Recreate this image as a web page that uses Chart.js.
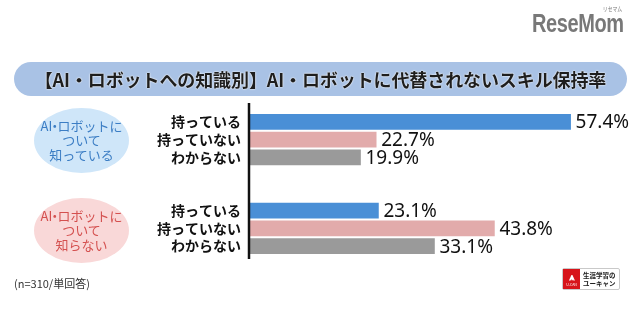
<!DOCTYPE html>
<html lang="ja">
<head>
<meta charset="utf-8">
<title>AI・ロボットに代替されないスキル保持率</title>
<script src="https://cdn.jsdelivr.net/npm/chart.js@4.4.1/dist/chart.umd.min.js"></script>
<style>
  html, body { margin: 0; padding: 0; background: #fff; }
  #wrap { position: relative; width: 640px; height: 311px; overflow: hidden;
    font-family: "Noto Sans CJK JP", "Noto Sans", sans-serif; }
  #chart { position: absolute; left: 0; top: 0; }
  .title { position: absolute; left: 14px; top: 62px; width: 613px; height: 34px;
    border-radius: 17px; background: #a9c2e5; color: #1e1e1e; font-weight: bold;
    font-size: 18px; line-height: 34px; text-align: center; letter-spacing: -0.1px;
    text-shadow: 0 0 2px #fff, 0 0 1px #fff; }
  .bubble { position: absolute; left: 34px; width: 95px; height: 65px; border-radius: 50%;
    display: flex; align-items: center; justify-content: center; text-align: center;
    font-size: 13px; line-height: 14.5px; }
  .bubble .dot { margin: 0 -0.3em; }
  .know { top: 108px; background: #cfe6f9; color: #3b7dc4; }
  .dontknow { top: 198px; background: #f9d8d8; color: #d4504f; }
  .note { position: absolute; left: 14px; top: 275px; font-size: 11px; color: #333; }
  .brand { position: absolute; left: 532px; top: 9px; font-family: "Liberation Sans", sans-serif;
    font-weight: bold; font-size: 25px; color: #787878; transform: scaleX(0.8);
    transform-origin: left top; letter-spacing: -0.5px; }
  .brand small { position: absolute; right: 2px; top: -5px; font-size: 6px; letter-spacing: 0;
    font-family: "Noto Sans CJK JP", sans-serif; font-weight: normal; }
  .ucan { position: absolute; left: 562px; top: 268px; width: 56px; height: 20px;
    border: 1px solid #c9c9c9; border-radius: 2px; background: #fff; }
  .ucan .red { position: absolute; left: 0; top: 0; width: 17px; height: 20px; background: #d7141a;
    color: #fff; font-size: 3.5px; text-align: center; line-height: 4px; }
  .ucan .red b { display: block; font-size: 10px; line-height: 14px; }
  .ucan .txt { position: absolute; left: 20px; top: 2px; font-size: 6.5px; line-height: 8px;
    font-weight: bold; color: #222; white-space: nowrap; }
</style>
</head>
<body>
<div id="wrap">
  <canvas id="chart" width="640" height="311"></canvas>
  <div class="brand">ReseMom<small>リセマム</small></div>
  <div class="title">【AI・ロボットへの知識別】AI・ロボットに代替されないスキル保持率</div>
  <div class="bubble know"><div>AI<span class="dot">・</span>ロボットに<br>ついて<br>知っている</div></div>
  <div class="bubble dontknow"><div>AI<span class="dot">・</span>ロボットに<br>ついて<br>知らない</div></div>
  <div class="note">(n=310/単回答)</div>
  <div class="ucan"><div class="red"><b>⩓</b>U-CAN</div><div class="txt">生涯学習の<br>ユーキャン</div></div>
</div>
<script>
// answer rows; the two blank rows make the gap between the groups
const rowLabels = ['持っている', '持っていない', 'わからない', '', '', '持っている', '持っていない', 'わからない'];
const knowValues = [57.4, 22.7, 19.9];
const dontKnowValues = [23.1, 43.8, 33.1];
const answerColors = ['#4a8fd6', '#e2abab', '#9a9a9a'];

const barData = [...knowValues, null, null, ...dontKnowValues];
const barColors = [...answerColors, '#fff', '#fff', ...answerColors];

// percent text to the right of each bar
const valueLabels = {
  id: 'valueLabels',
  afterDatasetsDraw(chart) {
    const ctx = chart.ctx;
    const meta = chart.getDatasetMeta(0);
    ctx.save();
    ctx.font = '19px "Noto Sans", sans-serif';
    ctx.fillStyle = '#111';
    ctx.textAlign = 'left';
    ctx.textBaseline = 'middle';
    meta.data.forEach((bar, i) => {
      const v = barData[i];
      if (v == null) return;
      ctx.fillText(v.toFixed(1) + '%', bar.x + 5, bar.y + 1);
    });
    ctx.restore();
  }
};

// vertical base line, a bit taller than the bars
const baseLine = {
  id: 'baseLine',
  afterDatasetsDraw(chart) {
    const { ctx, chartArea } = chart;
    ctx.save();
    ctx.strokeStyle = '#111';
    ctx.lineWidth = 2.5;
    ctx.beginPath();
    ctx.moveTo(chartArea.left, chartArea.top - 10);
    ctx.lineTo(chartArea.left, chartArea.bottom + 4);
    ctx.stroke();
    ctx.restore();
  }
};

new Chart(document.getElementById('chart'), {
  type: 'bar',
  data: {
    labels: rowLabels,
    datasets: [{ data: barData, backgroundColor: barColors, barThickness: 15 }],
  },
  options: {
    indexAxis: 'y',
    responsive: false,
    animation: false,
    layout: { padding: { top: 113, bottom: 56, left: 0, right: 10 } },
    plugins: { legend: { display: false }, tooltip: { enabled: false } },
    scales: {
      x: { display: false, min: 0, max: 68 },
      y: {
        grid: { display: false, drawTicks: false },
        border: { display: false },
        ticks: {
          autoSkip: false,
          padding: 8,
          color: '#111',
          font: { family: '"Noto Sans CJK JP", sans-serif', size: 14, weight: 'bold' },
        },
        afterFit(scale) { scale.width = 249; },
      },
    },
  },
  plugins: [valueLabels, baseLine],
});
</script>
</body>
</html>
